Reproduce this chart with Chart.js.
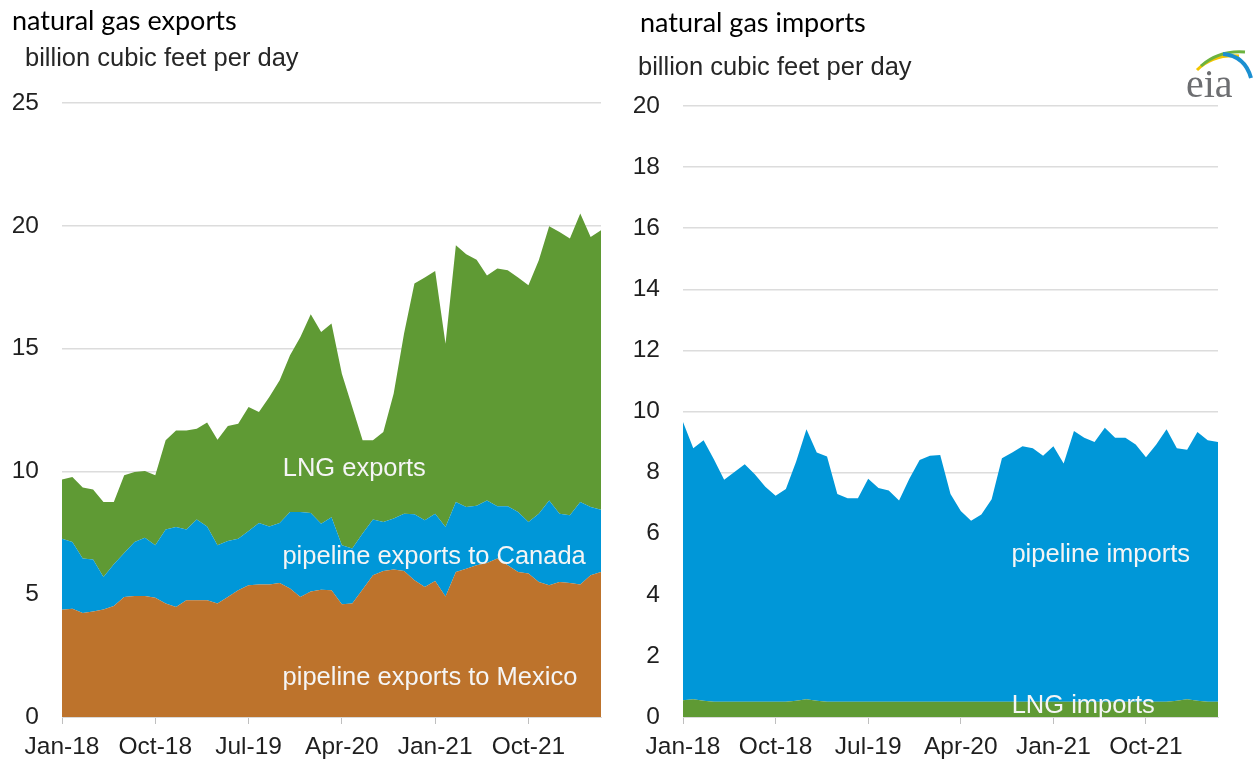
<!DOCTYPE html>
<html>
<head>
<meta charset="utf-8">
<script src="https://cdn.jsdelivr.net/npm/chart.js@4.4.0/dist/chart.umd.min.js"></script>
<style>
  html, body { margin: 0; padding: 0; background: #fff; }
  #wrap { position: relative; width: 1253px; height: 765px; overflow: hidden; }
  canvas { position: absolute; top: 0; }
  .title { position: absolute; font-family: Lato, "Open Sans", sans-serif; font-size: 27px; line-height: 1; color: #000; white-space: nowrap; }
  .unit { position: absolute; font-family: "Liberation Sans", Arial, sans-serif; font-size: 25.5px; line-height: 1; color: #262626; white-space: nowrap; }
  #eia { position: absolute; left: 1183px; top: 44px; }
</style>
</head>
<body>
<div id="wrap">
  <canvas id="exports" width="620" height="765" style="left:0;width:620px;height:765px"></canvas>
  <canvas id="imports" width="633" height="765" style="left:620px;width:633px;height:765px"></canvas>
  <div class="title" style="left:12px;top:6px">natural gas exports</div>
  <div class="unit" style="left:25px;top:45px">billion cubic feet per day</div>
  <div class="title" style="left:640px;top:8px">natural gas imports</div>
  <div class="unit" style="left:638px;top:54px">billion cubic feet per day</div>
  <svg id="eia" width="70" height="58" viewBox="0 0 70 58">
    <path d="M14 26 Q30 10 56 12" stroke="#f2c500" stroke-width="3" fill="none"/>
    <path d="M18 22 Q36 6 62 8" stroke="#6cb33f" stroke-width="3" fill="none"/>
    <path d="M40 10 Q62 12 68 34" stroke="#1b8fd1" stroke-width="4" fill="none"/>
    <text x="3" y="53" font-family="'Liberation Serif','DejaVu Serif',serif" font-size="40" fill="#6d6e71">eia</text>
  </svg>
</div>
<script>
// months Jan-18 .. May-22
const monthLabels = [
  'Jan-18','Feb-18','Mar-18','Apr-18','May-18','Jun-18','Jul-18','Aug-18','Sep-18','Oct-18','Nov-18','Dec-18',
  'Jan-19','Feb-19','Mar-19','Apr-19','May-19','Jun-19','Jul-19','Aug-19','Sep-19','Oct-19','Nov-19','Dec-19',
  'Jan-20','Feb-20','Mar-20','Apr-20','May-20','Jun-20','Jul-20','Aug-20','Sep-20','Oct-20','Nov-20','Dec-20',
  'Jan-21','Feb-21','Mar-21','Apr-21','May-21','Jun-21','Jul-21','Aug-21','Sep-21','Oct-21','Nov-21','Dec-21',
  'Jan-22','Feb-22','Mar-22','Apr-22','May-22'
];
const xTickLabels = ['Jan-18', 'Oct-18', 'Jul-19', 'Apr-20', 'Jan-21', 'Oct-21'];

// exports, billion cubic feet per day
const mexicoExports = [
  4.37, 4.41, 4.23, 4.30, 4.38, 4.52, 4.89, 4.93, 4.93, 4.86,
  4.62, 4.48, 4.75, 4.75, 4.75, 4.62, 4.89, 5.16, 5.36, 5.39,
  5.40, 5.46, 5.23, 4.89, 5.11, 5.18, 5.16, 4.59, 4.62, 5.19,
  5.77, 5.94, 6.01, 5.94, 5.57, 5.29, 5.54, 4.91, 5.90, 6.04,
  6.18, 6.27, 6.45, 6.18, 5.90, 5.84, 5.50, 5.36, 5.50, 5.46,
  5.40, 5.77, 5.90
];
const canadaExports = [
  2.89, 2.72, 2.22, 2.11, 1.32, 1.70, 1.79, 2.20, 2.37, 2.13,
  3.01, 3.26, 2.88, 3.29, 3.01, 2.37, 2.28, 2.10, 2.21, 2.51,
  2.36, 2.44, 3.12, 3.46, 3.20, 2.69, 2.97, 2.40, 2.24, 2.28,
  2.27, 2.00, 2.07, 2.34, 2.69, 2.72, 2.74, 2.83, 2.85, 2.51,
  2.42, 2.55, 2.13, 2.40, 2.45, 2.10, 2.78, 3.46, 2.78, 2.75,
  3.35, 2.78, 2.54
];
const lngExports = [
  2.41, 2.64, 2.89, 2.85, 3.05, 2.53, 3.16, 2.85, 2.72, 2.85,
  3.64, 3.93, 4.04, 3.70, 4.23, 4.30, 4.68, 4.68, 5.05, 4.52,
  5.27, 5.81, 6.38, 7.12, 8.09, 7.81, 7.89, 6.99, 5.76, 3.80,
  3.23, 3.66, 5.09, 7.33, 9.39, 9.88, 9.88, 7.46, 10.46, 10.29,
  10.02, 9.16, 9.68, 9.61, 9.54, 9.64, 10.32, 11.16, 11.47, 11.27,
  11.75, 10.99, 11.38
];

// imports, billion cubic feet per day
const lngImports = [
  0.55, 0.58, 0.53, 0.50, 0.50, 0.50, 0.50, 0.50, 0.50, 0.50,
  0.50, 0.53, 0.58, 0.53, 0.50, 0.50, 0.50, 0.50, 0.50, 0.50,
  0.50, 0.50, 0.50, 0.50, 0.50, 0.50, 0.50, 0.50, 0.50, 0.50,
  0.50, 0.50, 0.50, 0.50, 0.50, 0.50, 0.50, 0.50, 0.50, 0.50,
  0.50, 0.50, 0.50, 0.50, 0.50, 0.50, 0.50, 0.50, 0.53, 0.58,
  0.53, 0.50, 0.50
];
const pipelineImports = [
  9.11, 8.22, 8.53, 7.94, 7.27, 7.52, 7.77, 7.44, 7.04, 6.74,
  6.96, 7.83, 8.84, 8.13, 8.03, 6.80, 6.66, 6.66, 7.30, 7.00,
  6.91, 6.59, 7.30, 7.91, 8.05, 8.08, 6.80, 6.24, 5.92, 6.13,
  6.63, 7.97, 8.16, 8.36, 8.30, 8.05, 8.36, 7.80, 8.86, 8.64,
  8.50, 8.97, 8.64, 8.64, 8.42, 8.00, 8.42, 8.92, 8.27, 8.17,
  8.80, 8.56, 8.50
];

const GREEN = '#5f9a34';
const BLUE = '#0097d8';
const BROWN = '#bd732c';
const FONT = '"Liberation Sans", Arial, sans-serif';

// white labels written inside the areas, placed at (month index, value)
const inlineLabels = {
  id: 'inlineLabels',
  afterDatasetsDraw(chart, args, opts) {
    const { ctx, scales: { x, y } } = chart;
    ctx.save();
    ctx.font = '25.5px ' + FONT;
    ctx.fillStyle = '#f5f5f5';
    ctx.textAlign = 'center';
    ctx.textBaseline = 'middle';
    opts.items.forEach(it => {
      ctx.fillText(it.text, x.getPixelForValue(it.at[0]), y.getPixelForValue(it.at[1]));
    });
    ctx.restore();
  }
};

function area(label, data, color, fill) {
  return {
    label: label,
    data: data,
    backgroundColor: color,
    borderColor: color,
    borderWidth: 0,
    pointRadius: 0,
    tension: 0,
    fill: fill
  };
}

function makeChart(id, datasets, yMax, yStep, yAxisWidth, padding, labels) {
  return new Chart(document.getElementById(id), {
    type: 'line',
    data: { labels: monthLabels, datasets: datasets },
    plugins: [inlineLabels],
    options: {
      responsive: false,
      animation: false,
      layout: { padding: padding },
      plugins: {
        legend: { display: false },
        tooltip: { enabled: false },
        inlineLabels: { items: labels }
      },
      scales: {
        x: {
          offset: false,
          grid: { drawOnChartArea: false, color: '#bfbfbf', tickLength: 7 },
          border: { color: '#d9d9d9' },
          ticks: {
            autoSkip: false,
            maxRotation: 0,
            padding: 9,
            color: '#1f1f1f',
            font: { family: FONT, size: 24.5 },
            callback: (val, i) => xTickLabels.includes(monthLabels[i]) ? monthLabels[i] : null
          },
          afterFit: (scale) => { scale.height = 48; }
        },
        y: {
          stacked: true,
          min: 0,
          max: yMax,
          grid: { color: '#dcdcdc', lineWidth: 1.5, drawTicks: false },
          border: { display: false },
          ticks: {
            stepSize: yStep,
            padding: 23,
            color: '#1f1f1f',
            font: { family: FONT, size: 24.5 }
          },
          afterFit: (scale) => { scale.width = yAxisWidth; }
        }
      }
    }
  });
}

makeChart('exports', [
  area('pipeline exports to Mexico', mexicoExports, BROWN, 'origin'),
  area('pipeline exports to Canada', canadaExports, BLUE, '-1'),
  area('LNG exports', lngExports, GREEN, '-1')
], 25, 5, 62, { top: 103, right: 19, bottom: 0, left: 0 }, [
  { text: 'LNG exports', at: [28.2, 10.1] },
  { text: 'pipeline exports to Canada', at: [35.9, 6.5] },
  { text: 'pipeline exports to Mexico', at: [35.5, 1.6] }
]);

makeChart('imports', [
  area('LNG imports', lngImports, GREEN, 'origin'),
  area('pipeline imports', pipelineImports, BLUE, '-1')
], 20, 2, 63, { top: 106, right: 35, bottom: 0, left: 0 }, [
  { text: 'pipeline imports', at: [40.6, 5.3] },
  { text: 'LNG imports', at: [38.9, 0.37] }
]);
</script>
</body>
</html>
